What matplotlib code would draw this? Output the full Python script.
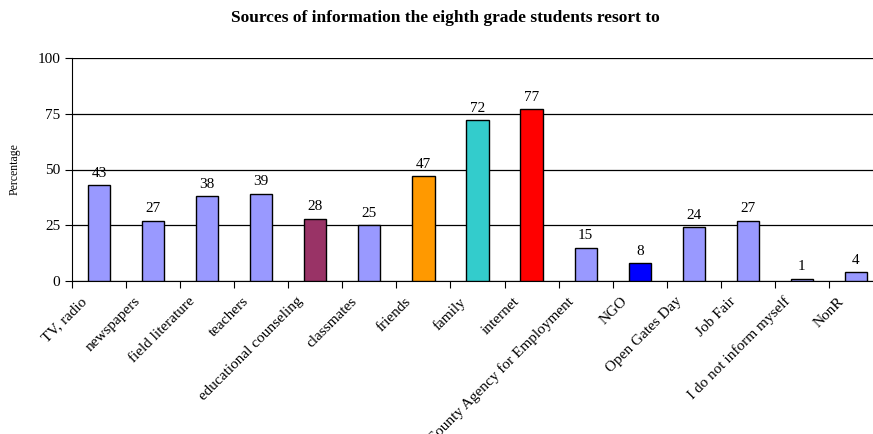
import matplotlib
matplotlib.use("Agg")
import matplotlib.pyplot as plt
import matplotlib.transforms as mtransforms
import numpy as np

plt.rcParams['font.family'] = ['Liberation Serif', 'DejaVu Serif']

categories = ["TV, radio", "newspapers", "field literature", "teachers",
              "educational counseling", "classmates", "friends", "family",
              "internet", "County Agency for Employment", "NGO",
              "Open Gates Day", "Job Fair", "I do not inform myself", "NonR"]
values = [43, 27, 38, 39, 28, 25, 47, 72, 77, 15, 8, 24, 27, 1, 4]
colors = ["#9999FF", "#9999FF", "#9999FF", "#9999FF", "#993366", "#9999FF",
          "#FF9900", "#33CCCC", "#FF0000", "#9999FF", "#0000FF", "#9999FF",
          "#9999FF", "#9999FF", "#9999FF"]
yticks = [0, 25, 50, 75, 100]

fig = plt.figure(figsize=(8.73, 4.34), dpi=100)
ax = fig.add_axes([72/873, 1 - 281/434, 811/873, 223/434])

x = np.arange(len(categories))
ax.bar(x, values, width=0.41, color=colors, edgecolor="black", linewidth=1.0, zorder=3)
for xi, v in zip(x, values):
    ax.text(xi, v + 2.5, str(v), ha="center", va="bottom", fontsize=11)

ax.set_xlim(-0.5, len(categories) - 0.5)
ax.set_ylim(0, 100)
ax.set_yticks(yticks)
ax.tick_params(axis="y", labelsize=11, direction="out", length=5)
ax.yaxis.grid(True, color="black", linewidth=0.9, zorder=0)

ax.set_xticks(np.arange(len(categories) + 1) - 0.5)
ax.set_xticklabels([])
ax.tick_params(axis="x", direction="out", length=5)
ax.set_xticks(x, minor=True)
ax.set_xticklabels(categories, minor=True, rotation=45, ha="right",
                   rotation_mode="anchor", fontsize=11)
ax.tick_params(axis="x", which="minor", length=0, pad=10)
offset = mtransforms.ScaledTranslation(-19/100, 0, fig.dpi_scale_trans)
for lab in ax.xaxis.get_minorticklabels():
    lab.set_transform(lab.get_transform() + offset)

for s in ["top", "right"]:
    ax.spines[s].set_visible(False)

ax.set_ylabel("Percentage", fontsize=8.5, labelpad=12)
fig.text(445/873, 1 - 18/434, "Sources of information the eighth grade students resort to",
         ha="center", va="center", fontsize=12.5, fontweight="bold")

fig.savefig("out.png", dpi=100)
